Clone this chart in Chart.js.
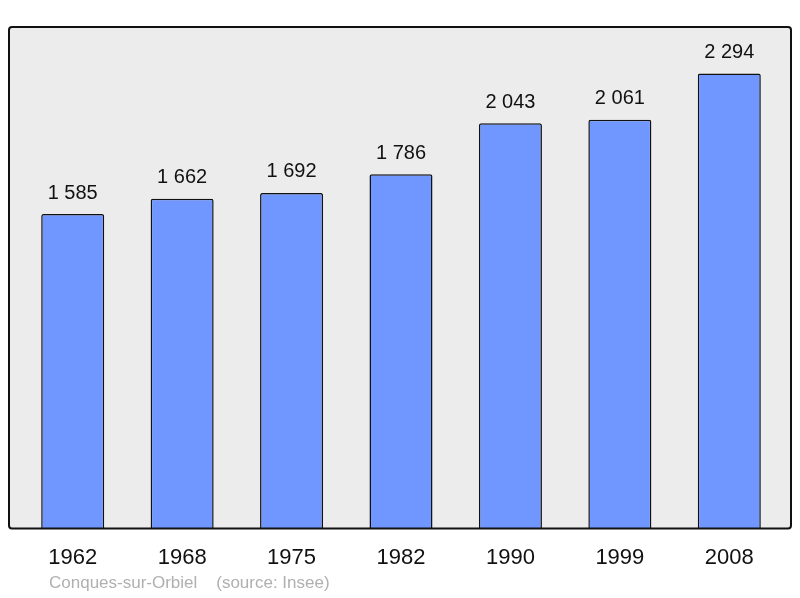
<!DOCTYPE html>
<html>
<head>
<meta charset="utf-8">
<script src="https://cdn.jsdelivr.net/npm/chart.js@4/dist/chart.umd.min.js"></script>
<style>
  html, body { margin: 0; padding: 0; background: #fff; }
  #wrap { width: 800px; height: 598px; }
</style>
</head>
<body>
<div id="wrap"><canvas id="popChart" width="800" height="598"></canvas></div>
<script>
'use strict';

// population data
let years = ['1962', '1968', '1975', '1982', '1990', '1999', '2008'];
let population = [1585, 1662, 1692, 1786, 2043, 2061, 2294];
let valueLabels = ['1 585', '1 662', '1 692', '1 786', '2 043', '2 061', '2 294'];
let footerText = 'Conques-sur-Orbiel    (source: Insee)';

const fontName = '"Liberation Sans", Arial, sans-serif';

// grey box behind the bars + border drawn on top
let boxPlugin = {
    id: 'box',
    beforeDatasetsDraw(chart) {
        let ctx = chart.ctx;
        let a = chart.chartArea;
        ctx.save();
        ctx.fillStyle = '#ececec';
        ctx.beginPath();
        ctx.roundRect(a.left - 9, a.top, a.right - a.left + 16, a.bottom - a.top, 3);
        ctx.fill();
        ctx.restore();
    },
    afterDatasetsDraw(chart) {
        let ctx = chart.ctx;
        let a = chart.chartArea;
        ctx.save();
        ctx.strokeStyle = '#111';
        ctx.lineWidth = 2;
        ctx.beginPath();
        ctx.roundRect(a.left - 9, a.top, a.right - a.left + 16, a.bottom - a.top, 3);
        ctx.stroke();

        // values over the bars
        let meta = chart.getDatasetMeta(0);
        ctx.fillStyle = '#111';
        ctx.font = '20px ' + fontName;
        ctx.textAlign = 'center';
        ctx.textBaseline = 'bottom';
        meta.data.forEach(function (bar, i) {
            ctx.fillText(valueLabels[i], bar.x, bar.y - 11);
        });

        // source line
        ctx.fillStyle = '#b0b0b0';
        ctx.font = '17px ' + fontName;
        ctx.textAlign = 'left';
        ctx.textBaseline = 'middle';
        ctx.fillText(footerText, 49, 583);
        ctx.restore();
    }
};

let ctx = document.getElementById('popChart').getContext('2d');
let chart = new Chart(ctx, {
    type: 'bar',
    data: {
        labels: years,
        datasets: [{
            label: 'Population',
            data: population,
            backgroundColor: '#7096ff',
            borderColor: '#111',
            borderWidth: 1.5,
            borderRadius: 2,
            borderSkipped: 'bottom',
            barPercentage: 0.576,
            categoryPercentage: 1
        }]
    },
    options: {
        responsive: false,
        animation: false,
        layout: { padding: { left: 18, right: 16, top: 27, bottom: 19 } },
        plugins: {
            legend: { display: false },
            tooltip: { enabled: false }
        },
        scales: {
            x: {
                grid: { display: false },
                border: { display: false },
                ticks: {
                    color: '#111',
                    padding: 8,
                    font: { family: fontName, size: 22 }
                }
            },
            y: {
                display: false,
                min: 0,
                max: 2528
            }
        }
    },
    plugins: [boxPlugin]
});
</script>
</body>
</html>
